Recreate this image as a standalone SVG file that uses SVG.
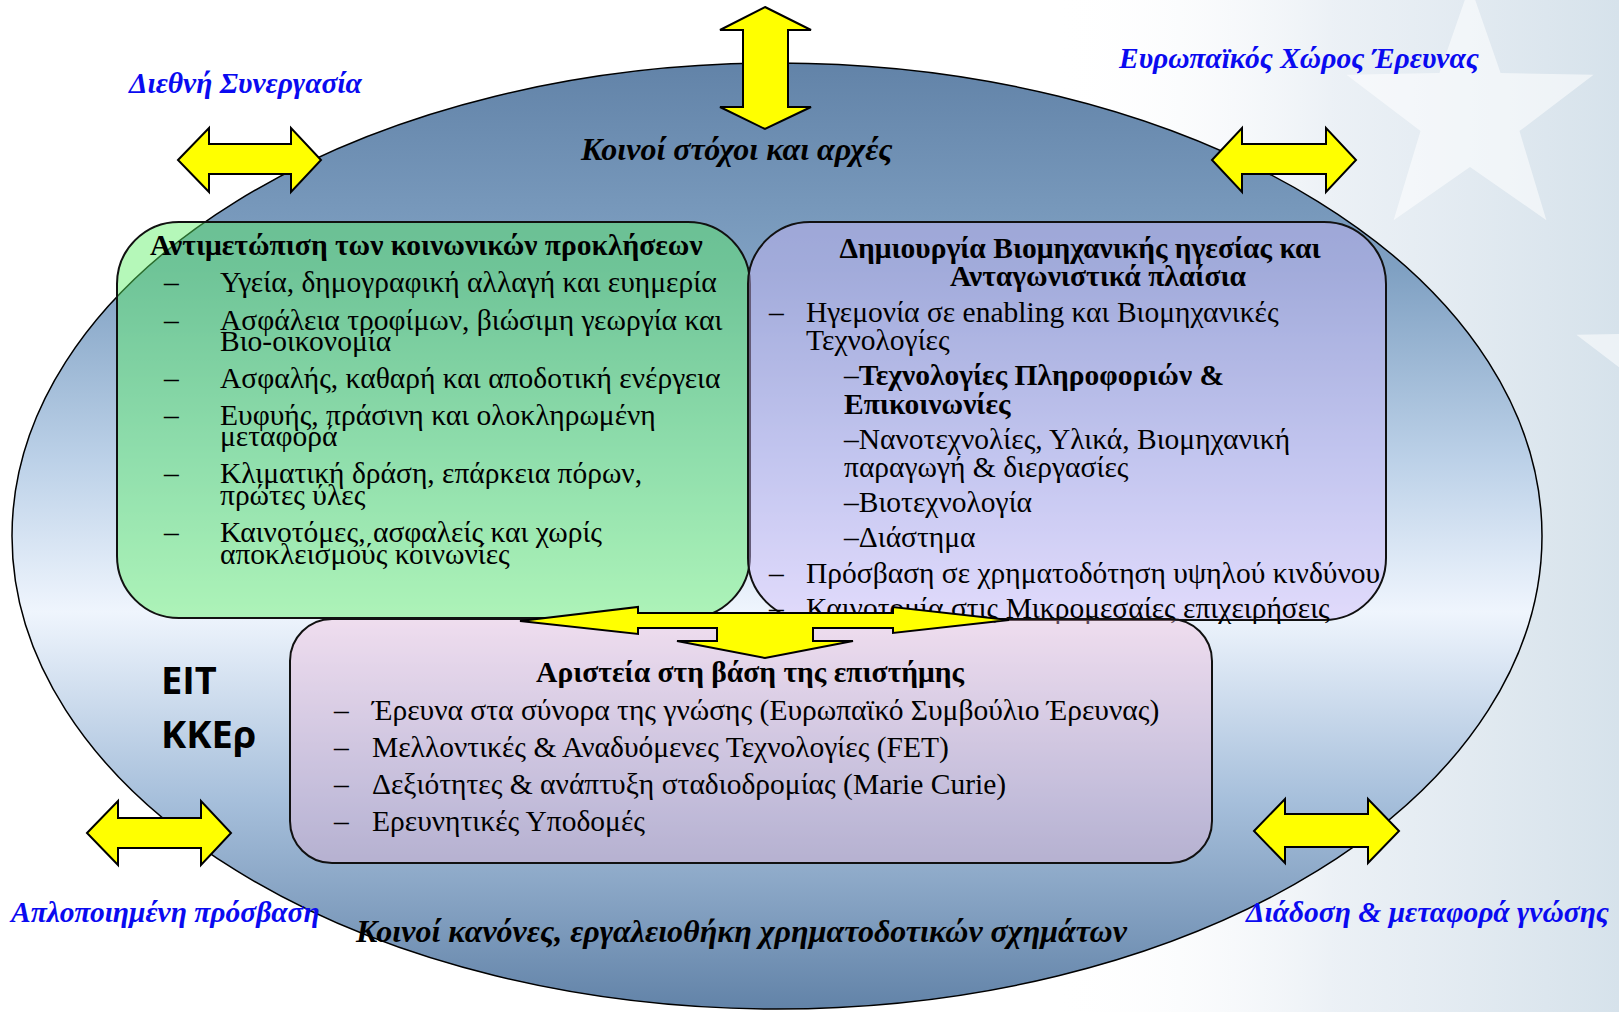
<svg xmlns="http://www.w3.org/2000/svg" width="1619" height="1012" viewBox="0 0 1619 1012">
<defs>
<linearGradient id="bgR" x1="0" y1="0" x2="1" y2="0">
<stop offset="0" stop-color="#ffffff" stop-opacity="0"/>
<stop offset="0.5" stop-color="#e8eef4" stop-opacity="0.85"/>
<stop offset="1" stop-color="#d6e2eb"/>
</linearGradient>
<linearGradient id="ell" x1="0" y1="0" x2="0" y2="1">
<stop offset="0" stop-color="#6283a8"/>
<stop offset="0.22" stop-color="#80a1c3"/>
<stop offset="0.42" stop-color="#bcd1e8"/>
<stop offset="0.58" stop-color="#eff5fd"/>
<stop offset="0.78" stop-color="#a6bfdb"/>
<stop offset="1" stop-color="#6283a8"/>
</linearGradient>
<style>
.t{font-family:"Liberation Serif","DejaVu Serif",serif;font-size:29.5px;fill:#000}
.h{font-family:"Liberation Serif","DejaVu Serif",serif;font-size:29.5px;font-weight:bold;fill:#000}
.lbl{font-family:"Liberation Serif","DejaVu Serif",serif;font-size:29.5px;font-weight:bold;font-style:italic;fill:#0a0af0}
.ttl{font-family:"Liberation Serif","DejaVu Serif",serif;font-size:32px;font-weight:bold;font-style:italic;fill:#000}
.eit{font-family:"Open Sans","Noto Sans",sans-serif;font-size:38px;font-weight:bold;fill:#000}
.arr{fill:#ffff00;stroke:#000;stroke-width:2;stroke-linejoin:miter}
.box{stroke:#111;stroke-width:2}
.star{fill:#ffffff;opacity:0.55}
</style>
</defs>
<rect width="1619" height="1012" fill="#ffffff"/>
<rect x="1050" y="0" width="569" height="1012" fill="url(#bgR)"/>
<polygon class="star" points="1470,-15 1500.6,72.9 1593.6,74.8 1519.5,131.1 1546.4,220.2 1470,167 1393.6,220.2 1420.5,131.1 1346.4,74.8 1439.4,72.9"/>
<polygon class="star" points="1700,245 1730.6,332.9 1823.6,334.8 1749.5,391.1 1776.4,480.2 1700,427 1623.6,480.2 1650.5,391.1 1576.4,334.8 1669.4,332.9"/>

<g id="ellipse">
<ellipse cx="777" cy="536" rx="765" ry="473" fill="url(#ell)" stroke="#000" stroke-width="1.5"/>
<text class="ttl" x="581" y="160">Κοινοί στόχοι και αρχές</text>
<text class="ttl" x="356" y="942">Κοινοί κανόνες, εργαλειοθήκη χρηματοδοτικών σχημάτων</text>
<text class="eit" x="161" y="694">EIT</text>
<text class="eit" x="161" y="748">ΚΚΕρ</text>
</g>

<g id="societal">
<rect class="box" x="117" y="222" width="633" height="396" rx="62" ry="62" fill="#5af064" fill-opacity="0.45"/>
<text class="h" x="150" y="255">Αντιμετώπιση των κοινωνικών προκλήσεων</text>
<g class="t">
<text x="164" y="292">–</text><text x="220" y="292">Υγεία, δημογραφική αλλαγή και ευημερία</text>
<text x="164" y="330">–</text><text x="220" y="330">Ασφάλεια τροφίμων, βιώσιμη γεωργία και</text>
<text x="220" y="351">Βιο-οικονομία</text>
<text x="164" y="388">–</text><text x="220" y="388">Ασφαλής, καθαρή και αποδοτική ενέργεια</text>
<text x="164" y="425">–</text><text x="220" y="425">Ευφυής, πράσινη και ολοκληρωμένη</text>
<text x="220" y="446">μεταφορά</text>
<text x="164" y="483">–</text><text x="220" y="483">Κλιματική δράση, επάρκεια πόρων,</text>
<text x="220" y="505">πρώτες ύλες</text>
<text x="164" y="542">–</text><text x="220" y="542">Καινοτόμες, ασφαλείς και χωρίς</text>
<text x="220" y="564">αποκλεισμούς κοινωνίες</text>
</g>
</g>

<g id="industrial">
<rect class="box" x="748" y="222" width="638" height="398" rx="62" ry="62" fill="#cdb9f8" fill-opacity="0.45"/>
<text class="h" x="1080" y="258" text-anchor="middle">Δημιουργία Βιομηχανικής ηγεσίας και</text>
<text class="h" x="1098" y="286" text-anchor="middle">Ανταγωνιστικά πλαίσια</text>
<g class="t">
<text x="769" y="322">–</text><text x="806" y="322">Ηγεμονία σε enabling και Βιομηχανικές</text>
<text x="806" y="350">Τεχνολογίες</text>
<text x="844" y="385">–<tspan font-weight="bold">Τεχνολογίες Πληροφοριών &amp;</tspan></text>
<text x="844" y="414" font-weight="bold">Επικοινωνίες</text>
<text x="844" y="449">–Νανοτεχνολίες, Υλικά, Βιομηχανική</text>
<text x="844" y="477">παραγωγή &amp; διεργασίες</text>
<text x="844" y="512">–Βιοτεχνολογία</text>
<text x="844" y="547">–Διάστημα</text>
<text x="769" y="583">–</text><text x="806" y="583">Πρόσβαση σε χρηματοδότηση υψηλού κινδύνου</text>
<text x="769" y="618">–</text><text x="806" y="618">Καινοτομία στις Μικρομεσαίες επιχειρήσεις</text>
</g>
</g>

<g id="science">
<rect class="box" x="290" y="619" width="922" height="244" rx="42" ry="42" fill="#f4b8da" fill-opacity="0.37"/>
<text class="h" x="750" y="682" text-anchor="middle">Αριστεία στη βάση της επιστήμης</text>
<g class="t">
<text x="334" y="720">–</text><text x="372" y="720">Έρευνα στα σύνορα της γνώσης (Ευρωπαϊκό Συμβούλιο Έρευνας)</text>
<text x="334" y="757">–</text><text x="372" y="757">Μελλοντικές &amp; Αναδυόμενες Τεχνολογίες (FET)</text>
<text x="334" y="794">–</text><text x="372" y="794">Δεξιότητες &amp; ανάπτυξη σταδιοδρομίας (Marie Curie)</text>
<text x="334" y="831">–</text><text x="372" y="831">Ερευνητικές Υποδομές</text>
</g>
</g>

<g id="connectors">
<polygon class="arr" points="765,7 811,30 788,30 788,107 811,107 765,129 720,107 743,107 743,30 720,30"/>
<polygon class="arr" points="178,160 209,128 209,144 291,144 291,128 321,160 291,192 291,174 209,174 209,192"/>
<polygon class="arr" points="1212,160 1242,128 1242,144 1326,144 1326,128 1356,160 1326,192 1326,174 1242,174 1242,192"/>
<polygon class="arr" points="87,833 118,801 118,818 201,818 201,801 231,833 201,865 201,848 118,848 118,865"/>
<polygon class="arr" points="1254,831 1285,799 1285,814 1368,814 1368,799 1399,831 1368,863 1368,847 1285,847 1285,863"/>
<polygon class="arr" points="520,621 638,607 638,613 893,613 893,607 1009,620 893,633 893,628 813,628 813,641 853,641 765,658 677,641 717,641 717,628 638,628 638,634"/>
</g>

<g id="labels">
<text class="lbl" x="129" y="93">Διεθνή Συνεργασία</text>
<text class="lbl" x="1119" y="68">Ευρωπαϊκός Χώρος Έρευνας</text>
<text class="lbl" x="11" y="922">Απλοποιημένη πρόσβαση</text>
<text class="lbl" x="1246" y="922">Διάδοση &amp; μεταφορά γνώσης</text>
</g>
</svg>
